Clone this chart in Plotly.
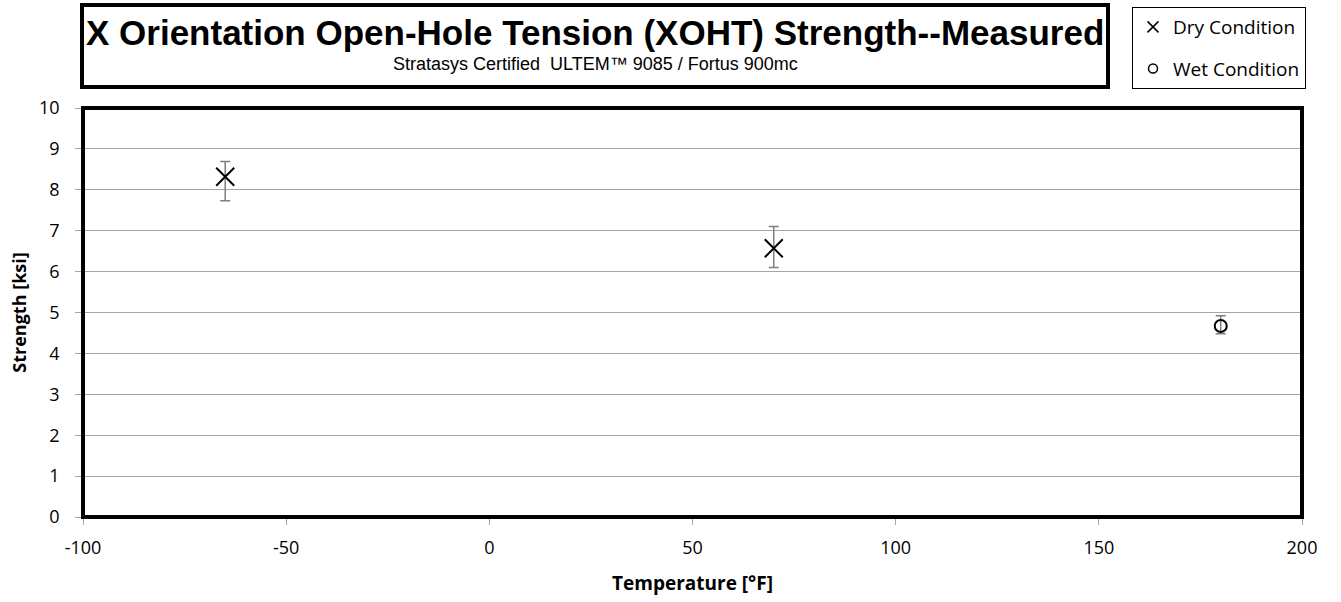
import plotly.graph_objects as go

# Data
dry_temp = [-65, 70]
dry_strength = [8.32, 6.57]
dry_err_plus = [0.37, 0.53]
dry_err_minus = [0.59, 0.47]

wet_temp = [180]
wet_strength = [4.67]
wet_err_plus = [0.25]
wet_err_minus = [0.19]

x_tickvals = [-100, -50, 0, 50, 100, 150, 200]
x_ticktext = ["-100", "-50", "0", "50", "100", "150", "200"]

title_text = "X Orientation Open-Hole Tension (XOHT) Strength--Measured"
subtitle_text = "Stratasys Certified  ULTEM™ 9085 / Fortus 900mc"

W, H = 1341, 602
L, R, T, B = 83, 1302, 108, 517

def px(x):
    return (x - L) / (R - L)

def py(y):
    return (B - y) / (B - T)

fig = go.Figure()

err_color = "#7F7F7F"
lab_font = "'Open Sans', Lato, sans-serif"

fig.add_trace(go.Scatter(
    x=dry_temp, y=dry_strength, mode="markers", name="Dry Condition",
    showlegend=False,
    marker=dict(symbol="x-thin", size=18, color="black", line=dict(color="black", width=2)),
    error_y=dict(type="data", symmetric=False, array=dry_err_plus, arrayminus=dry_err_minus,
                 color=err_color, thickness=1.5, width=5),
))
fig.add_trace(go.Scatter(
    x=wet_temp, y=wet_strength, mode="markers", name="Wet Condition",
    showlegend=False,
    marker=dict(symbol="circle-open", size=12, color="black", line=dict(color="black", width=2)),
    error_y=dict(type="data", symmetric=False, array=wet_err_plus, arrayminus=wet_err_minus,
                 color=err_color, thickness=1.5, width=5),
))
# legend-only entries
fig.add_trace(go.Scatter(
    x=[None], y=[None], mode="markers", name="Dry Condition", legendgroup="d",
    marker=dict(symbol="x-thin", size=11, color="black", line=dict(color="black", width=1.5)),
))
fig.add_trace(go.Scatter(
    x=[None], y=[None], mode="markers", name="Wet Condition", legendgroup="w",
    marker=dict(symbol="circle-open", size=9, color="black", line=dict(color="black", width=1.5)),
))

axis_common = dict(
    showline=True, linecolor="#8C8C8C", linewidth=1.5,
    ticks="outside", ticklen=6, tickcolor="#A6A6A6", tickwidth=1,
    tickfont=dict(family=lab_font, size=18, color="black"),
    zeroline=False, automargin=False,
)

fig.update_xaxes(range=[-100, 200], tickvals=x_tickvals, ticktext=x_ticktext, showgrid=False,
                 ticklabelstandoff=8, **axis_common,
                 title=dict(text="<b>Temperature [°F]</b>", font=dict(family=lab_font, size=19, color="black"), standoff=18))
fig.update_yaxes(range=[0, 10], dtick=1, showgrid=True, gridcolor="#A6A6A6", gridwidth=1.3,
                 ticklabelstandoff=12, **axis_common,
                 title=dict(text="<b>Strength [ksi]</b>", font=dict(family=lab_font, size=18, color="black"), standoff=8))

# plot area border
fig.add_shape(type="rect", xref="x domain", yref="y domain", x0=0, x1=1, y0=0, y1=1,
              line=dict(color="black", width=4), layer="above")
# title box
fig.add_shape(type="rect", xref="paper", yref="paper", x0=px(82), x1=px(1108), y0=py(87), y1=py(5),
              line=dict(color="black", width=4))

fig.add_annotation(xref="paper", yref="paper", x=px(595), y=py(32), text="<b>" + title_text + "</b>",
                   showarrow=False, xanchor="center", yanchor="middle",
                   font=dict(family="'Liberation Sans', Arial, sans-serif", size=35, color="black"))
fig.add_annotation(xref="paper", yref="paper", x=px(595), y=py(64), text=subtitle_text,
                   showarrow=False, xanchor="center", yanchor="middle",
                   font=dict(family="'Liberation Sans', Arial, sans-serif", size=18, color="black"))

fig.update_layout(
    width=W, height=H,
    margin=dict(l=L, r=W - R, t=T, b=H - B, autoexpand=False),
    paper_bgcolor="white", plot_bgcolor="white",
    showlegend=True,
    legend=dict(xref="paper", yref="paper", x=px(1132), y=py(7), xanchor="left", yanchor="top",
                bordercolor="black", borderwidth=1, bgcolor="white",
                font=dict(family=lab_font, size=19, color="black"),
                tracegroupgap=14, itemwidth=30),
)

fig.write_html("out.html", config={"displayModeBar": False},
               post_script="document.body.style.margin='0';document.body.style.overflow='hidden';")
